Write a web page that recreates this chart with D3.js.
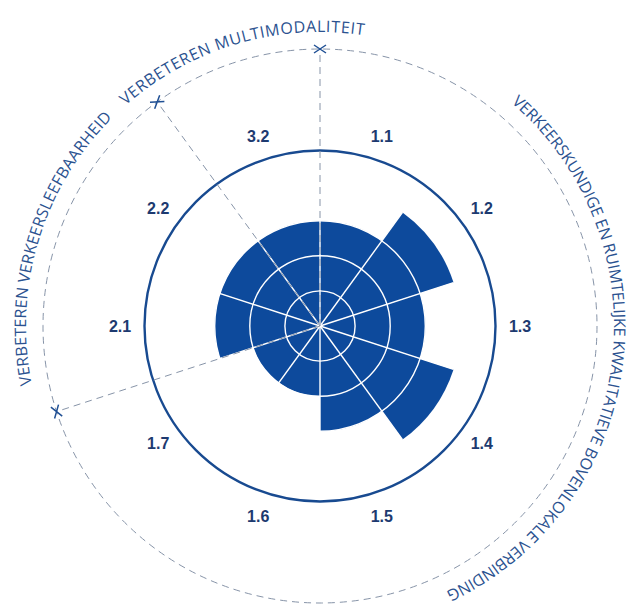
<!DOCTYPE html>
<html>
<head>
<meta charset="utf-8">
<script src="https://cdn.jsdelivr.net/npm/d3@7"></script>
<style>
  html, body { margin: 0; padding: 0; background: #fff; }
</style>
</head>
<body>
<svg id="chart"></svg>
<script>
// sector categories (clockwise from top) and their scores
const categories = ["1.1", "1.2", "1.3", "1.4", "1.5", "1.6", "1.7", "2.1", "2.2", "3.2"];
const values = [3, 4, 3, 4, 3, 2, 2, 3, 3, 3];
const gridTicks = [1, 2, 3];
const maxValue = 5;
const groupNames = ["1", "2", "3"];
const groupLabels = [
  "VERKEERSKUNDIGE EN RUIMTELIJKE KWALITATIEVE BOVENLOKALE VERBINDING",
  "VERBETEREN VERKEERSLEEFBAARHEID",
  "VERBETEREN MULTIMODALITEIT"
];

const width = 631, height = 611;
const cx = 320, cy = 326;
const outerR = 277;      // dashed ring
const textR = 294;       // baseline of the curved group titles
const labelR = 200;      // category numbers
// arc (degrees clockwise from top) each group title runs along
const groupLabelSpan = { "1": [40.5, 154.5], "2": [258.5, 315], "3": [318.5, 368.5] };

const blue = "#0d4a9c";
const navy = "#1d3a70";
const dashGrey = "#8794a8";

const svg = d3.select("#chart")
  .attr("width", width)
  .attr("height", height);

const g = svg.append("g").attr("transform", `translate(${cx},${cy})`);

const angle = d3.scaleBand()
  .domain(categories)
  .range([0, 2 * Math.PI]);

const r = d3.scaleLinear()
  .domain([0, maxValue])
  .range([0, 175.5]);

const data = categories.map((c, i) => ({ cat: c, value: values[i], group: c.split(".")[0] }));

// sectors
const arc = d3.arc()
  .innerRadius(0)
  .outerRadius(d => r(d.value))
  .startAngle(d => angle(d.cat))
  .endAngle(d => angle(d.cat) + angle.bandwidth());

g.selectAll(".sector")
  .data(data)
  .enter()
  .append("path")
  .attr("class", "sector")
  .attr("d", arc)
  .attr("fill", blue);

// white grid rings
g.selectAll(".ring")
  .data(gridTicks)
  .enter()
  .append("circle")
  .attr("r", d => r(d))
  .attr("fill", "none")
  .attr("stroke", "#fff")
  .attr("stroke-width", 1.4);

// white spokes between sectors
g.selectAll(".spoke")
  .data(data)
  .enter()
  .append("line")
  .attr("x1", 0)
  .attr("y1", 0)
  .attr("x2", d => r(4) * Math.sin(angle(d.cat)))
  .attr("y2", d => -r(4) * Math.cos(angle(d.cat)))
  .attr("stroke", "#fff")
  .attr("stroke-width", 1.4);

// solid outer circle (max score)
g.append("circle")
  .attr("r", r(maxValue))
  .attr("fill", "none")
  .attr("stroke", "#184a90")
  .attr("stroke-width", 2.4);

// dashed ring
g.append("circle")
  .attr("r", outerR)
  .attr("fill", "none")
  .attr("stroke", dashGrey)
  .attr("stroke-width", 1)
  .attr("stroke-dasharray", "7,5");

// group boundaries: where the first digit changes
const bounds = data.filter((d, i) => d.group !== data[(i + data.length - 1) % data.length].group)
  .map(d => angle(d.cat));

g.selectAll(".divider")
  .data(bounds)
  .enter()
  .append("line")
  .attr("x1", 0)
  .attr("y1", 0)
  .attr("x2", a => outerR * Math.sin(a))
  .attr("y2", a => -outerR * Math.cos(a))
  .attr("stroke", dashGrey)
  .attr("stroke-width", 1)
  .attr("stroke-dasharray", "7,5");

// crosses on the dashed ring
const cross = g.selectAll(".cross")
  .data(bounds)
  .enter()
  .append("g")
  .attr("transform", a => `translate(${outerR * Math.sin(a)},${-outerR * Math.cos(a)}) rotate(${a * 180 / Math.PI})`);

cross.append("path")
  .attr("d", "M-6,-4L6,4M-6,4L6,-4")
  .attr("stroke", "#1f4f94")
  .attr("stroke-width", 1.5)
  .attr("fill", "none");

// category numbers
g.selectAll(".cat-label")
  .data(data)
  .enter()
  .append("text")
  .attr("x", d => labelR * Math.sin(angle(d.cat) + angle.bandwidth() / 2))
  .attr("y", d => -labelR * Math.cos(angle(d.cat) + angle.bandwidth() / 2))
  .attr("text-anchor", "middle")
  .attr("dy", "0.36em")
  .style("font-family", "'Liberation Sans', Arial, sans-serif")
  .style("font-weight", "bold")
  .style("font-size", "16px")
  .style("fill", navy)
  .text(d => d.cat);

// curved group titles, path starts at the bottom and runs clockwise
g.append("path")
  .attr("id", "titlePath")
  .attr("d", `M0,${textR}A${textR},${textR} 0 1 1 0,${-textR}A${textR},${textR} 0 1 1 0,${textR}`)
  .attr("fill", "none");

const toOffset = deg => textR * (((deg - 180) % 360 + 360) % 360) * Math.PI / 180;
const arcLen = span => textR * (span[1] - span[0]) * Math.PI / 180;

g.selectAll(".group-title")
  .data(groupNames)
  .enter()
  .append("text")
  .style("font-family", "'Open Sans', sans-serif")
  .style("font-size", "16px")
  .style("fill", "#2b5290")
  .append("textPath")
  .attr("href", "#titlePath")
  .attr("startOffset", d => toOffset(groupLabelSpan[d][0]))
  .attr("textLength", d => arcLen(groupLabelSpan[d]))
  .attr("lengthAdjust", "spacing")
  .text((d, i) => groupLabels[i]);
</script>
</body>
</html>
